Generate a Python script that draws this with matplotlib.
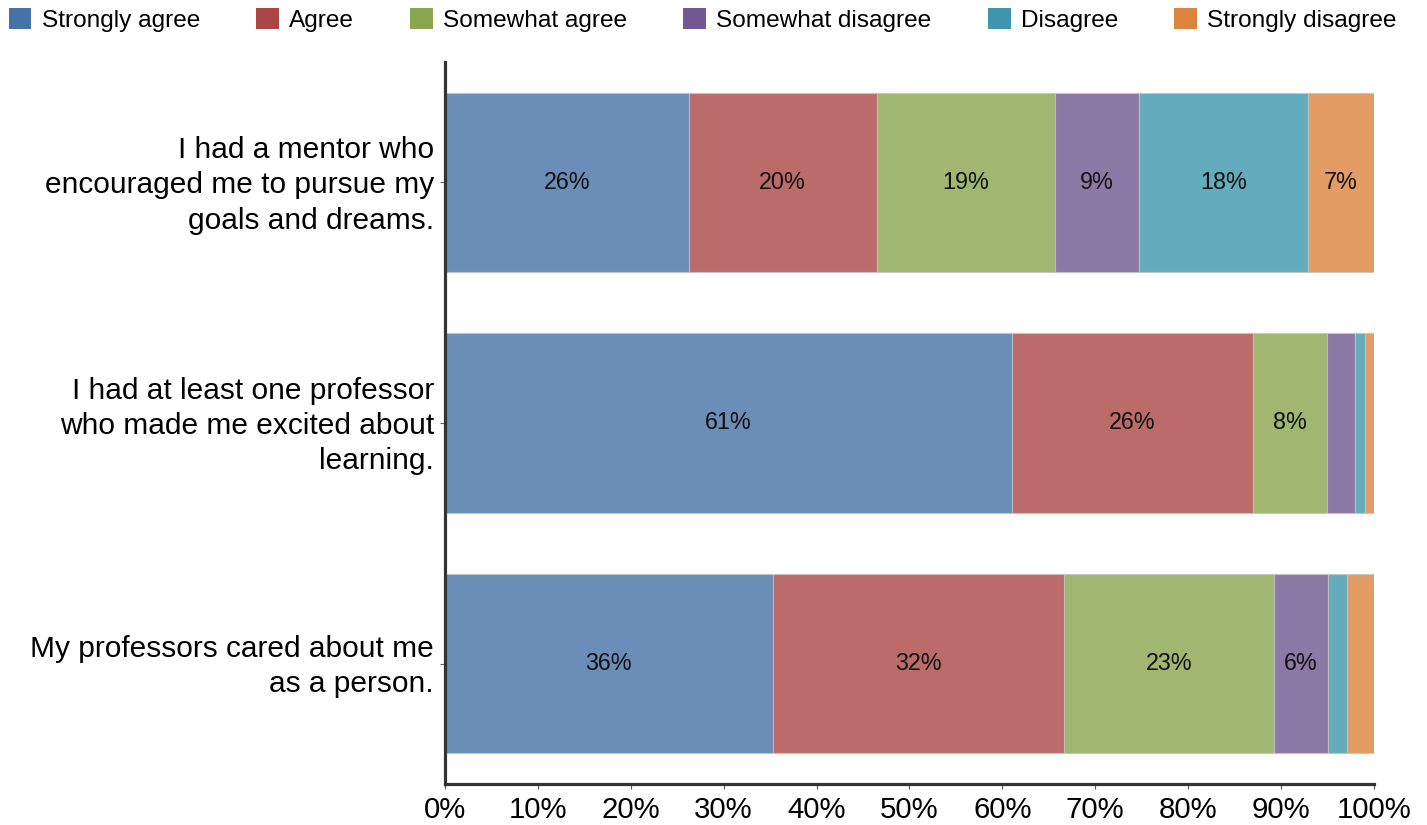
import matplotlib.pyplot as plt
import matplotlib.transforms as mtransforms
import numpy as np
from matplotlib.patches import Patch

plt.rcParams['font.family'] = ['Liberation Sans', 'DejaVu Sans']

statements = [
    "I had a mentor who\nencouraged me to pursue my\ngoals and dreams.",
    "I had at least one professor\nwho made me excited about\nlearning.",
    "My professors cared about me\nas a person.",
]
responses = ["Strongly agree", "Agree", "Somewhat agree",
             "Somewhat disagree", "Disagree", "Strongly disagree"]
colors = ["#4572A7", "#AA4643", "#89A54E", "#71588F", "#3D96AE", "#DB843D"]

# raw survey percentages per response, one value per statement
strongly_agree = [26, 61, 36]
agree = [20, 26, 32]
somewhat_agree = [19, 8, 23]
somewhat_disagree = [9, 3, 6]
disagree = [18, 1, 2]
strongly_disagree = [7, 1, 3]

xticks = [0, 10, 20, 30, 40, 50, 60, 70, 80, 90, 100]

series = [strongly_agree, agree, somewhat_agree,
          somewhat_disagree, disagree, strongly_disagree]
raw = np.array(series, dtype=float)
# stacked to 100% per statement
shares = raw / raw.sum(axis=0) * 100

fig = plt.figure(figsize=(14.27, 8.25), dpi=100)
ax = fig.add_axes([0.3118, 0.0497, 0.6510, 0.8752])

ypos = np.arange(len(statements))
left = np.zeros(len(statements))
for i, name in enumerate(responses):
    bars = ax.barh(ypos, shares[i], left=left, height=0.745,
                   color=colors[i], alpha=0.8, edgecolor='#c4c4c4',
                   linewidth=0.8, label=name)
    for j, b in enumerate(bars):
        if raw[i, j] >= 5:
            ax.text(left[j] + shares[i, j] / 2, ypos[j], f"{raw[i, j]:.0f}%",
                    ha='center', va='center', fontsize=16.8, color='#111111')
    left += shares[i]

ax.set_xlim(0, 100)
ax.set_ylim(-0.5, len(statements) - 0.5)
ax.invert_yaxis()
ax.set_yticks(ypos)
ax.set_yticklabels([])

# category labels drawn as texts so they can sit exactly on the bar centres
label_trans = mtransforms.offset_copy(ax.get_yaxis_transform(), fig=fig,
                                      x=-11, y=-3, units='dots')
for y, s in zip(ypos, statements):
    ax.text(0, y, s, transform=label_trans, ha='right', va='center',
            fontsize=21.5, linespacing=1.33, multialignment='right')

ax.set_xticks(xticks)
ax.set_xticklabels([f"{t}%" for t in xticks], fontsize=21.2)

for side in ['top', 'right']:
    ax.spines[side].set_visible(False)
for side in ['left', 'bottom']:
    ax.spines[side].set_color('#333333')
    ax.spines[side].set_linewidth(2.3)

ax.tick_params(axis='x', direction='out', length=3.5, width=0.8,
               color='#555555', pad=5)
ax.tick_params(axis='y', direction='out', length=3.5, width=0.8,
               color='#666666', pad=4)

handles = [Patch(facecolor=c, edgecolor='none') for c in colors]
fig.legend(handles, responses, loc='center', bbox_to_anchor=(0.4923, 0.976),
           ncol=6, frameon=False, fontsize=17.6, handlelength=0.94,
           handleheight=0.94, handletextpad=0.41, columnspacing=2.3,
           borderpad=0, borderaxespad=0)

fig.savefig("out.png", dpi=100)
